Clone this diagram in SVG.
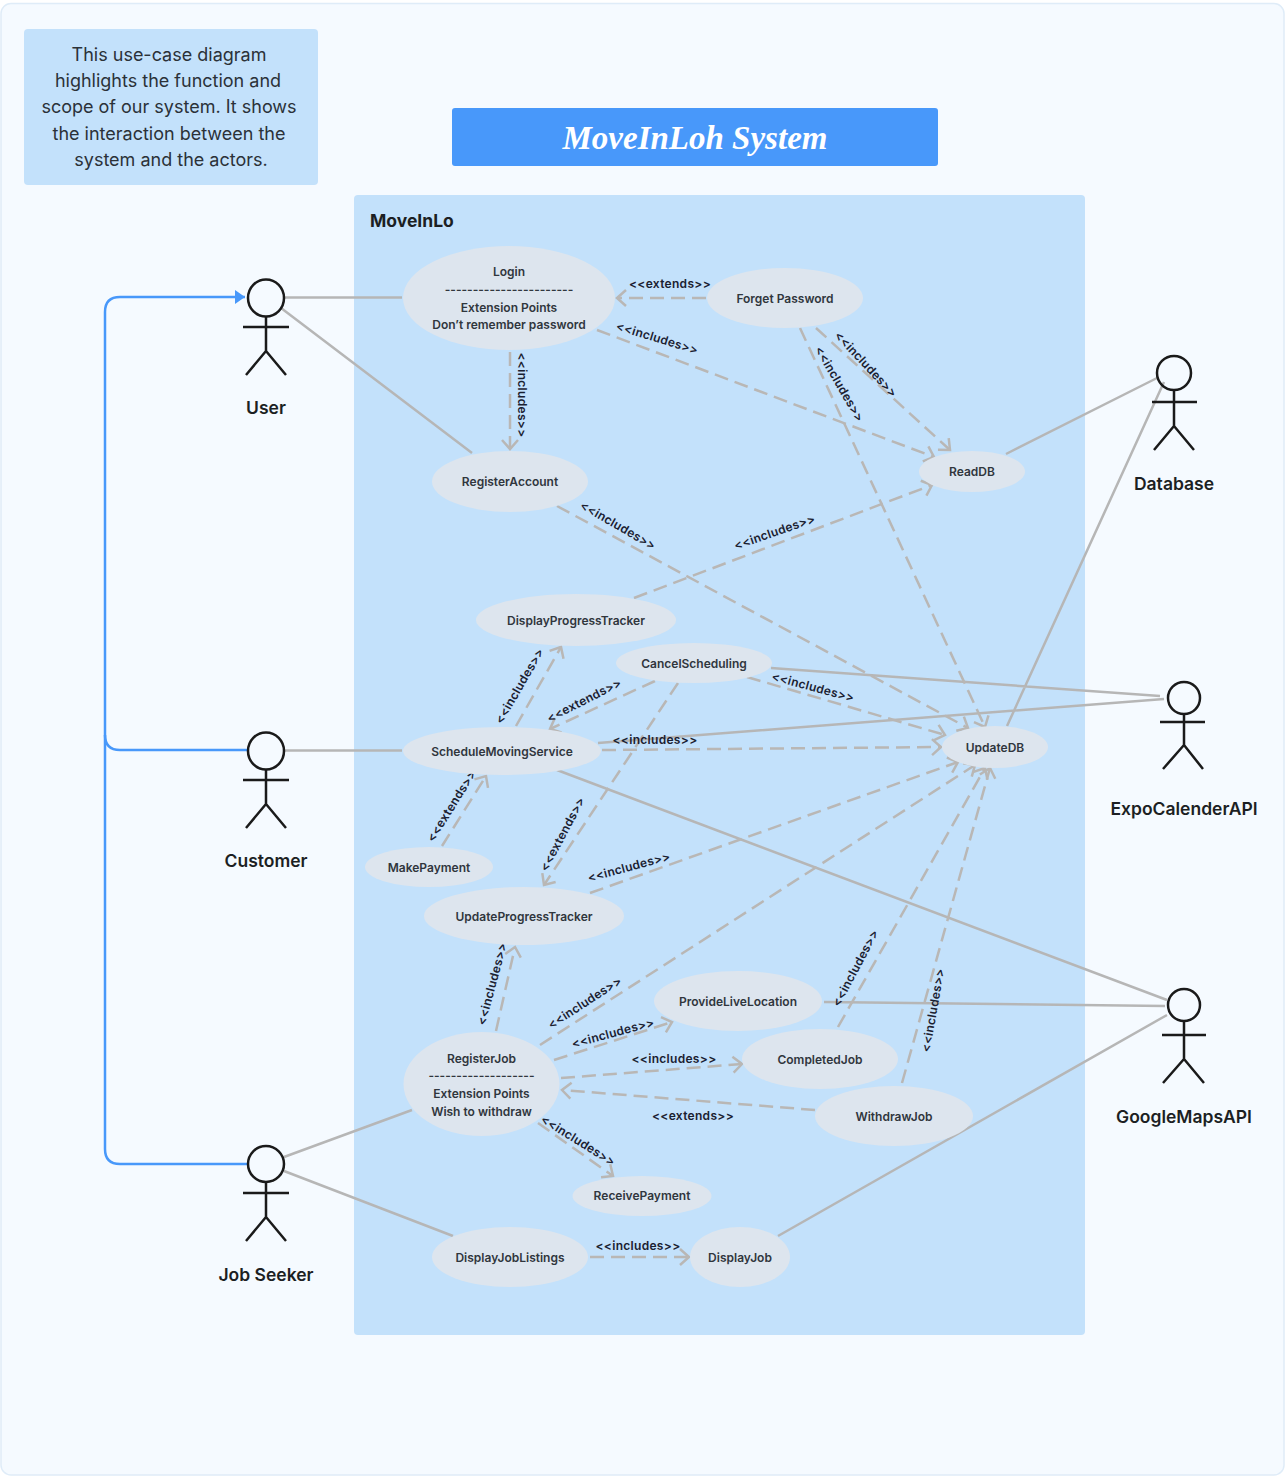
<svg xmlns="http://www.w3.org/2000/svg" width="1286" height="1480" viewBox="0 0 1286 1480">
<style>
text{font-family:Inter,"Noto Sans","Liberation Sans",sans-serif;text-anchor:middle}
.uc{fill:#dde5ee}
.t{font-size:12px;font-weight:600;fill:#30363d}
.lb{font-size:12px;font-weight:600;fill:#1a2030;letter-spacing:.3px}
.note{font-size:18px;fill:#2b3138}
.an{font-size:17.5px;font-weight:600;fill:#1c1f23}
.s{stroke:#b6b6b6;stroke-width:2.5;fill:none}
.d{stroke:#b9b7b5;stroke-width:2.5;fill:none;stroke-dasharray:14 7;marker-end:url(#open)}
.b{stroke:#4898fa;stroke-width:2.5;fill:none}
.a{stroke:#1a1a1a;stroke-width:2.5;fill:none}
</style>
<defs>
<marker id="open" markerUnits="userSpaceOnUse" markerWidth="16" markerHeight="20" refX="13" refY="10" orient="auto"><path d="M4 2 L13 10 L4 18" fill="none" stroke="#b9b7b5" stroke-width="2.5"/></marker>
<marker id="solid" markerUnits="userSpaceOnUse" markerWidth="12" markerHeight="16" refX="11" refY="8" orient="auto"><path d="M1 1 L11 8 L1 15Z" fill="#4898fa"/></marker>
</defs>
<rect x="1" y="3.500" width="1283" height="1471.500" rx="10" fill="#f5faff" stroke="#dfecf8" stroke-width="1.500"/>
<g id="note"><rect x="24" y="29" width="294" height="156" rx="4" fill="#c3e1fb"/>
<text class="note" x="169" y="61">This use-case diagram</text><text class="note" x="168" y="87">highlights the function and</text><text class="note" x="169" y="113">scope of our system. It shows</text><text class="note" x="169" y="140">the interaction between the</text><text class="note" x="171" y="166">system and the actors.</text></g>
<g id="title"><rect x="452" y="108" width="486" height="58" rx="3" fill="#4898fa"/><text x="695" y="149" font-size="33" font-style="italic" font-weight="600" fill="#fff" style="font-family:'Liberation Serif',serif">MoveInLoh System</text></g>
<g id="system"><rect x="354" y="195" width="731" height="1140" rx="4" fill="#c3e1fb"/><text x="370" y="227" style="text-anchor:start" font-size="17.500" font-weight="700" fill="#1c1f23">MoveInLo</text></g>
<g id="connectors">
<path class="b" d="M248 1164H120Q105 1164 105 1149V312Q105 297 120 297H245" marker-end="url(#solid)"/>
<path class="b" d="M248 750H120Q105 750 105 735"/>
<path class="s" d="M285 297.500H402M281 308L472 453M1006 454L1157 378M1007 726L1164 382M771 668L1160 696M598 743L1164 699M557 770L1167 1000M285 750.500H402M824 1002L1165 1006M778 1236L1167 1015M284 1157L412 1110M284 1171L453 1236"/>
<path class="d" d="M706 298H617"/>
<path class="d" d="M597 330L934 457"/>
<path class="d" d="M510 352V449"/>
<path class="d" d="M816 328L950 450"/>
<path class="d" d="M800 328L985 727"/>
<path class="d" d="M557 506L968 728"/>
<path class="d" d="M634 598L932 485"/>
<path class="d" d="M516 726L561 647"/>
<path class="d" d="M655 681L550 729"/>
<path class="d" d="M747 677L945 735"/>
<path class="d" d="M602 750L941 747"/>
<path class="d" d="M678 683L544 885"/>
<path class="d" d="M442 846L486 776"/>
<path class="d" d="M590 893L958 762"/>
<path class="d" d="M496 1031L515 947"/>
<path class="d" d="M540 1045L975 765"/>
<path class="d" d="M554 1060L672 1022"/>
<path class="d" d="M561 1078L742 1064"/>
<path class="d" d="M815 1110L562 1090"/>
<path class="d" d="M538 1123L613 1176"/>
<path class="d" d="M590 1257H689"/>
<path class="d" d="M838 1027L985 768"/>
<path class="d" d="M902 1083L990 768"/>
<g id="labels">
<text class="lb" x="670" y="288">&lt;&lt;extends&gt;&gt;</text>
<text class="lb" transform="translate(656 342) rotate(17)">&lt;&lt;includes&gt;&gt;</text>
<text class="lb" transform="translate(518 395) rotate(90)">&lt;&lt;includes&gt;&gt;</text>
<text class="lb" transform="translate(863 367) rotate(47)">&lt;&lt;includes&gt;&gt;</text>
<text class="lb" transform="translate(836 386) rotate(60)">&lt;&lt;includes&gt;&gt;</text>
<text class="lb" transform="translate(616 529) rotate(30)">&lt;&lt;includes&gt;&gt;</text>
<text class="lb" transform="translate(776 536) rotate(-19)">&lt;&lt;includes&gt;&gt;</text>
<text class="lb" transform="translate(523 688) rotate(-60)">&lt;&lt;includes&gt;&gt;</text>
<text class="lb" transform="translate(586 704) rotate(-27)">&lt;&lt;extends&gt;&gt;</text>
<text class="lb" transform="translate(812 691) rotate(15)">&lt;&lt;includes&gt;&gt;</text>
<text class="lb" x="655" y="744">&lt;&lt;includes&gt;&gt;</text>
<text class="lb" transform="translate(455 808) rotate(-58)">&lt;&lt;extends&gt;&gt;</text>
<text class="lb" transform="translate(566 836) rotate(-62)">&lt;&lt;extends&gt;&gt;</text>
<text class="lb" transform="translate(630 871) rotate(-15)">&lt;&lt;includes&gt;&gt;</text>
<text class="lb" transform="translate(496 985) rotate(-75)">&lt;&lt;includes&gt;&gt;</text>
<text class="lb" transform="translate(587 1006) rotate(-33)">&lt;&lt;includes&gt;&gt;</text>
<text class="lb" transform="translate(614 1037) rotate(-15)">&lt;&lt;includes&gt;&gt;</text>
<text class="lb" x="674" y="1063">&lt;&lt;includes&gt;&gt;</text>
<text class="lb" x="693" y="1120">&lt;&lt;extends&gt;&gt;</text>
<text class="lb" transform="translate(576 1144) rotate(32)">&lt;&lt;includes&gt;&gt;</text>
<text class="lb" x="638" y="1250">&lt;&lt;includes&gt;&gt;</text>
<text class="lb" transform="translate(859 970) rotate(-62)">&lt;&lt;includes&gt;&gt;</text>
<text class="lb" transform="translate(937 1011) rotate(-80)">&lt;&lt;includes&gt;&gt;</text>
</g>
</g>
<g id="login"><ellipse class="uc" cx="509" cy="298" rx="106" ry="52"/><text class="t" x="509" y="276">Login</text><text class="t" x="509" y="294">-----------------------</text><text class="t" x="509" y="312">Extension Points</text><text class="t" x="509" y="329">Don’t remember password</text></g>
<g id="forget"><ellipse class="uc" cx="785" cy="298" rx="78" ry="30"/><text class="t" x="785" y="303">Forget Password</text></g>
<g id="registeraccount"><ellipse class="uc" cx="510" cy="481.500" rx="78" ry="30.500"/><text class="t" x="510" y="486">RegisterAccount</text></g>
<g id="readdb"><ellipse class="uc" cx="972" cy="471.500" rx="53" ry="20.500"/><text class="t" x="972" y="476">ReadDB</text></g>
<g id="displayprogress"><ellipse class="uc" cx="576" cy="620" rx="100" ry="26"/><text class="t" x="576" y="624.500">DisplayProgressTracker</text></g>
<g id="cancel"><ellipse class="uc" cx="694" cy="663" rx="78" ry="20"/><text class="t" x="694" y="667.500">CancelScheduling</text></g>
<g id="schedule"><ellipse class="uc" cx="502" cy="751" rx="99" ry="24"/><text class="t" x="502" y="755.500">ScheduleMovingService</text></g>
<g id="updatedb"><ellipse class="uc" cx="995" cy="747" rx="53" ry="21"/><text class="t" x="995" y="752">UpdateDB</text></g>
<g id="makepayment"><ellipse class="uc" cx="429" cy="867" rx="64" ry="20"/><text class="t" x="429" y="872">MakePayment</text></g>
<g id="updateprogress"><ellipse class="uc" cx="524" cy="916" rx="100" ry="29"/><text class="t" x="524" y="920.500">UpdateProgressTracker</text></g>
<g id="providelive"><ellipse class="uc" cx="738" cy="1001" rx="84" ry="30"/><text class="t" x="738" y="1006">ProvideLiveLocation</text></g>
<g id="completed"><ellipse class="uc" cx="820" cy="1059" rx="78" ry="30"/><text class="t" x="820" y="1064">CompletedJob</text></g>
<g id="withdraw"><ellipse class="uc" cx="894" cy="1116" rx="79" ry="30"/><text class="t" x="894" y="1121">WithdrawJob</text></g>
<g id="registerjob"><ellipse class="uc" cx="481.500" cy="1084" rx="78" ry="52"/><text class="t" x="481.500" y="1063">RegisterJob</text><text class="t" x="481.500" y="1080">-------------------</text><text class="t" x="481.500" y="1098">Extension Points</text><text class="t" x="481.500" y="1116">Wish to withdraw</text></g>
<g id="receive"><ellipse class="uc" cx="642" cy="1196" rx="69.500" ry="20"/><text class="t" x="642" y="1200">ReceivePayment</text></g>
<g id="listings"><ellipse class="uc" cx="510" cy="1257" rx="78" ry="30"/><text class="t" x="510" y="1262">DisplayJobListings</text></g>
<g id="displayjob"><ellipse class="uc" cx="740" cy="1257" rx="50" ry="30"/><text class="t" x="740" y="1262">DisplayJob</text></g>
<g id="user"><ellipse class="a" cx="266" cy="298" rx="18" ry="18.500"/><path class="a" d="M266 317V351M243 327H289M266 351L246 375M266 351L286 375"/><text class="an" x="266" y="414">User</text></g>
<g id="customer"><ellipse class="a" cx="266" cy="751" rx="18" ry="18.500"/><path class="a" d="M266 770V804M243 780H289M266 804L246 828M266 804L286 828"/><text class="an" x="266" y="867">Customer</text></g>
<g id="jobseeker"><ellipse class="a" cx="266" cy="1164" rx="18" ry="18"/><path class="a" d="M266 1183V1217M243 1193H289M266 1217L246 1241M266 1217L286 1241"/><text class="an" x="266" y="1281">Job Seeker</text></g>
<g id="database"><ellipse class="a" cx="1174" cy="373" rx="17" ry="17"/><path class="a" d="M1174 390V426M1152 402H1197M1174 426L1154 450M1174 426L1194 450"/><text class="an" x="1174" y="490">Database</text></g>
<g id="expo"><ellipse class="a" cx="1184" cy="698" rx="16" ry="16"/><path class="a" d="M1184 714V745M1160 722H1205M1184 745L1163 769M1184 745L1203 769"/><text class="an" x="1184" y="815">ExpoCalenderAPI</text></g>
<g id="google"><ellipse class="a" cx="1184" cy="1005" rx="16" ry="16"/><path class="a" d="M1184 1021V1059M1162 1035H1206M1184 1059L1163 1083M1184 1059L1204 1083"/><text class="an" x="1184" y="1123">GoogleMapsAPI</text></g>
</svg>
